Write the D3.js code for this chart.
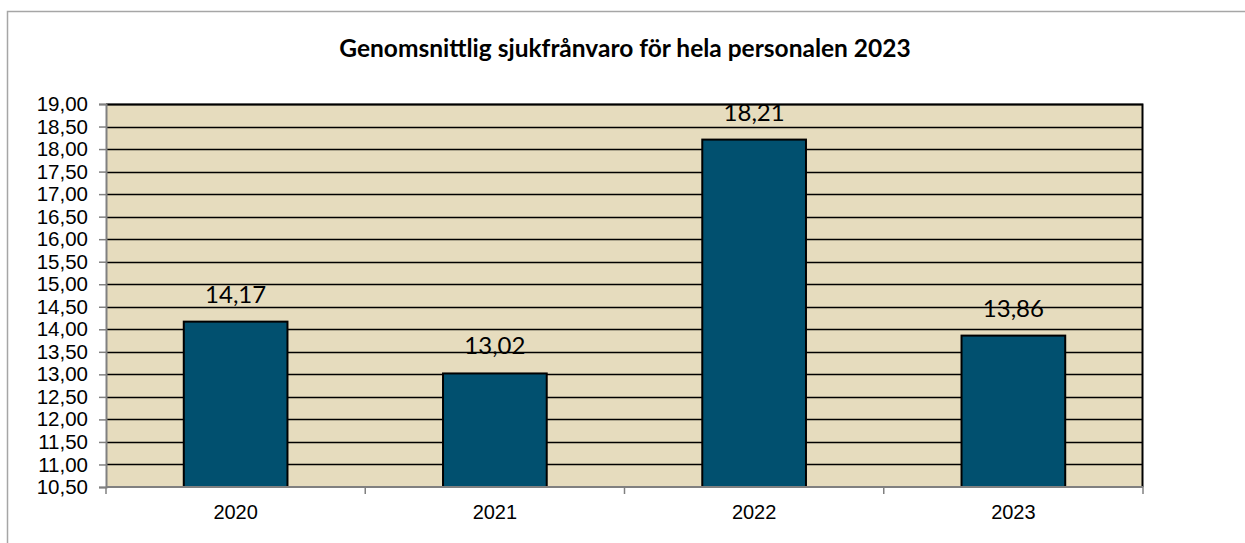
<!DOCTYPE html>
<html>
<head>
<meta charset="utf-8">
<script src="https://cdn.jsdelivr.net/npm/d3@7"></script>
<style>
  body { margin: 0; background: #fff; }
  svg { display: block; }
</style>
</head>
<body>
<div id="chart"></div>
<script>
var years = ['2020', '2021', '2022', '2023'];
var values = [14.17, 13.02, 18.21, 13.86];
var yTicks = [10.5, 11, 11.5, 12, 12.5, 13, 13.5, 14, 14.5, 15, 15.5, 16, 16.5, 17, 17.5, 18, 18.5, 19];
var title = 'Genomsnittlig sjukfrånvaro för hela personalen 2023';

var W = 1245, H = 543;
var margin = {top: 104, right: 102, bottom: 56, left: 106},
    width = W - margin.left - margin.right,
    height = H - margin.top - margin.bottom;

var svg = d3.select('#chart').append('svg')
    .attr('width', W)
    .attr('height', H);

// outer frame
svg.append('rect')
    .attr('x', 7.5).attr('y', 11.5)
    .attr('width', W + 10).attr('height', H + 10)
    .attr('fill', '#fff')
    .attr('stroke', '#a6a6a6')
    .attr('stroke-width', 1.5);

svg.append('text')
    .attr('x', 625).attr('y', 57)
    .attr('text-anchor', 'middle')
    .style('font-family', 'Lato, Carlito, sans-serif')
    .style('font-weight', 'bold')
    .style('font-size', '24.5px')
    .text(title);

var fmt = function(v) { return d3.format('.2f')(v).replace('.', ','); };

var x = d3.scaleBand().domain(years).range([0, width]).paddingInner(0.6).paddingOuter(0.3);
var xCat = d3.scaleBand().domain(years).range([0, width]);
var y = d3.scaleLinear().domain([10.5, 19]).range([height, 0]);

var g = svg.append('g')
    .attr('transform', 'translate(' + margin.left + ',' + margin.top + ')');

g.append('rect')
    .attr('width', width).attr('height', height)
    .attr('fill', '#e6dcbe');

// gridlines
g.selectAll('.grid')
    .data(yTicks.slice(1))
    .enter().append('line')
    .attr('x1', 0).attr('x2', width)
    .attr('y1', function(d) { return Math.round(y(d)) + 0.5; })
    .attr('y2', function(d) { return Math.round(y(d)) + 0.5; })
    .attr('stroke', '#000')
    .attr('stroke-width', 1.5);

// top and right border
g.append('path')
    .attr('d', 'M0,0.5H' + (width - 0.5) + 'V' + height)
    .attr('fill', 'none')
    .attr('stroke', '#000')
    .attr('stroke-width', 2);

// bars
g.selectAll('.bar')
    .data(values)
    .enter().append('rect')
    .attr('class', 'bar')
    .attr('x', function(d, i) { return x(years[i]); })
    .attr('width', x.bandwidth())
    .attr('y', function(d) { return y(d); })
    .attr('height', function(d) { return height - y(d); })
    .attr('fill', '#01506f')
    .attr('stroke', '#000')
    .attr('stroke-width', 2);

// data labels
g.selectAll('.lbl')
    .data(values)
    .enter().append('text')
    .attr('x', function(d, i) { return x(years[i]) + x.bandwidth() / 2; })
    .attr('y', function(d) { return y(d) - 19; })
    .attr('text-anchor', 'middle')
    .style('font-family', 'Lato, Carlito, sans-serif')
    .style('font-size', '24px')
    .attr('fill', '#000')
    .text(fmt);

// y axis
var yAxis = g.append('g')
    .call(d3.axisLeft(y).tickValues(yTicks).tickFormat(fmt).tickSizeOuter(0).tickSize(7).tickPadding(11));
yAxis.select('.domain').attr('stroke', '#808080').attr('stroke-width', 2);
yAxis.selectAll('.tick line').attr('stroke', '#808080').attr('stroke-width', 1.5);
yAxis.selectAll('text')
    .style('font-family', '"Liberation Sans", Arial, sans-serif')
    .style('font-size', '20.5px')
    .attr('fill', '#000');

// x axis
var xg = g.append('g').attr('transform', 'translate(0,' + height + ')');
xg.append('line').attr('x1', 0).attr('x2', width).attr('stroke', '#808080').attr('stroke-width', 2);
xg.selectAll('.xt')
    .data(years.concat(['end']))
    .enter().append('line')
    .attr('x1', function(d, i) { return i * xCat.bandwidth(); })
    .attr('x2', function(d, i) { return i * xCat.bandwidth(); })
    .attr('y1', 0).attr('y2', 7)
    .attr('stroke', '#808080')
    .attr('stroke-width', 1.5);
xg.selectAll('.xl')
    .data(years)
    .enter().append('text')
    .attr('x', function(d) { return xCat(d) + xCat.bandwidth() / 2; })
    .attr('y', 32)
    .attr('text-anchor', 'middle')
    .style('font-family', '"Liberation Sans", Arial, sans-serif')
    .style('font-size', '20px')
    .text(function(d) { return d; });
</script>
</body>
</html>
